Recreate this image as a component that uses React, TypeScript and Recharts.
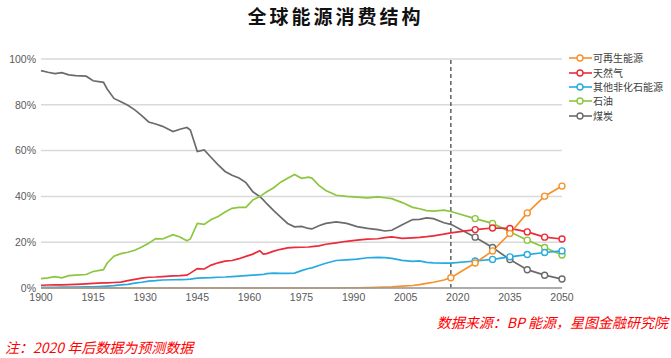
import {
  CartesianGrid,
  Line,
  LineChart,
  ReferenceLine,
  XAxis,
  YAxis,
} from "recharts";

const years = [
  1900, 1902, 1904, 1906, 1908, 1910, 1913, 1915, 1918, 1919, 1921, 1923, 1925, 1927, 1929,
  1931, 1933, 1935, 1938, 1940, 1942, 1943, 1945, 1947, 1949, 1951, 1953, 1955, 1957, 1959,
  1961, 1963, 1964, 1965, 1967, 1969, 1971, 1973, 1975, 1977, 1978, 1980, 1982, 1985, 1988,
  1991, 1994, 1997, 1999, 2001, 2004, 2007, 2009, 2011, 2013, 2016, 2018, 2025, 2030, 2035,
  2040, 2045, 2050,
];

const coal = [
  94.9, 94.2, 93.6, 94.0, 93.1, 92.7, 92.5, 90.5, 89.8, 87.0, 82.8, 81.3, 79.8, 77.8, 75.3,
  72.5, 71.6, 70.6, 68.3, 69.3, 70.1, 69.0, 59.6, 60.3, 57.0, 53.8, 50.9, 49.2, 48.0, 46.0,
  42.0, 39.9, 38.5, 36.8, 33.8, 31.0, 28.2, 26.7, 26.9, 26.0, 25.8, 27.2, 28.2, 28.9, 28.2,
  26.8, 26.0, 25.5, 24.9, 25.2, 27.6, 29.9, 30.0, 30.6, 30.3, 28.5, 27.8, 22.2, 17.7, 12.4,
  8.0, 5.6, 3.9,
];

const oil = [
  4.1, 4.4, 5.0, 4.4, 5.4, 5.6, 5.9, 7.2, 8.0, 10.8, 13.9, 15.0, 15.6, 16.5, 17.9,
  19.5, 21.6, 21.4, 23.3, 22.3, 20.6, 21.4, 28.2, 27.8, 29.9, 31.2, 33.2, 34.8, 35.2, 35.2,
  38.5, 39.9, 41.0, 42.0, 43.8, 46.2, 47.9, 49.6, 47.9, 48.4, 48.0, 44.8, 42.6, 40.5, 40.0,
  39.7, 39.4, 39.8, 39.4, 39.0, 37.3, 35.2, 34.6, 33.8, 33.6, 34.0, 33.4, 30.3, 28.2, 24.6,
  20.9, 17.7, 14.4,
];

const gas = [
  1.2, 1.3, 1.4, 1.4, 1.5, 1.6, 1.8, 2.0, 2.2, 2.2, 2.4, 2.6, 3.2, 3.8, 4.3,
  4.7, 4.8, 5.0, 5.3, 5.4, 5.6, 6.5, 8.5, 8.3, 10.0, 11.0, 11.7, 12.0, 12.8, 13.8,
  14.8, 16.3, 14.8, 15.0, 16.1, 16.9, 17.5, 17.7, 17.8, 17.9, 18.1, 18.4, 19.1, 19.7, 20.4,
  20.9, 21.3, 21.5, 22.0, 22.3, 21.7, 21.9, 22.1, 22.4, 22.8, 23.5, 24.1, 25.5, 26.2, 26.0,
  24.5, 22.2, 21.4,
];

const otherNonFossil = [
  0.3, 0.3, 0.3, 0.4, 0.4, 0.4, 0.5, 0.5, 0.7, 0.8, 1.0, 1.4, 1.6, 2.1, 2.5,
  3.0, 3.2, 3.5, 3.6, 3.7, 3.8, 3.9, 4.3, 4.4, 4.5, 4.7, 4.8, 5.0, 5.2, 5.4,
  5.6, 5.8, 5.9, 6.3, 6.5, 6.4, 6.4, 6.5, 7.6, 8.5, 8.8, 9.8, 10.8, 12.0, 12.3,
  12.6, 13.2, 13.4, 13.3, 12.9, 12.1, 11.6, 11.8, 11.2, 11.0, 10.9, 10.9, 11.8, 12.5, 13.6,
  14.6, 15.5, 16.2,
];

const renewables = [
  0, 0, 0, 0, 0, 0, 0, 0, 0, 0, 0, 0, 0, 0, 0,
  0, 0, 0, 0, 0, 0, 0, 0, 0, 0, 0, 0, 0, 0, 0,
  0, 0, 0, 0, 0, 0, 0, 0, 0, 0, 0, 0, 0, 0, 0.1,
  0.1, 0.2, 0.3, 0.4, 0.5, 0.8, 1.1, 1.5, 2.0, 2.5, 3.5, 4.5, 10.9, 16.2, 23.8,
  32.8, 40.1, 44.5,
];

const xTicks = [1900, 1915, 1930, 1945, 1960, 1975, 1990, 2005, 2020, 2035, 2050];
const yTicks = [0, 20, 40, 60, 80, 100];
const forecastYears = [2025, 2030, 2035, 2040, 2045, 2050];
const dividerYear = 2018;

const data = years.map((year, i) => ({
  year,
  coal: coal[i],
  oil: oil[i],
  gas: gas[i],
  other: otherNonFossil[i],
  renew: renewables[i],
}));

// legend order as in the picture
const series = [
  { key: "renew", name: "可再生能源", color: "#f7922a" },
  { key: "gas", name: "天然气", color: "#ec2a3a" },
  { key: "other", name: "其他非化石能源", color: "#27aae1" },
  { key: "oil", name: "石油", color: "#8cc63f" },
  { key: "coal", name: "煤炭", color: "#6b6b6b" },
];
const drawOrder = ["coal", "oil", "other", "gas", "renew"];

const cjk = '"Noto Sans CJK SC", "Noto Sans", sans-serif';
const tickStyle = { fontSize: 10.5, fill: "#5a5a5a", fontFamily: '"Liberation Sans", Arial, sans-serif' };

function makeDot(key: string, color: string) {
  return (props: any) => {
    const { cx, cy, payload, index } = props;
    const show =
      forecastYears.includes(payload.year) || (key === "renew" && payload.year === dividerYear);
    if (!show) return <g key={`d-${key}-${index}`} />;
    return (
      <circle
        key={`d-${key}-${index}`}
        cx={cx}
        cy={cy}
        r={3}
        fill="#fff"
        stroke={color}
        strokeWidth={1.4}
      />
    );
  };
}

function LegendBox() {
  return (
    <div style={{ position: "absolute", left: 569, top: 51, whiteSpace: "nowrap" }}>
      {series.map((s) => (
        <div key={s.key} style={{ display: "flex", alignItems: "center", height: 14.4 }}>
          <svg width={23} height={10} style={{ marginRight: 1, flex: "none" }}>
            <line x1={0} y1={5} x2={23} y2={5} stroke={s.color} strokeWidth={1.6} />
            <circle cx={11} cy={5} r={3} fill="#fff" stroke={s.color} strokeWidth={1.4} />
          </svg>
          <span style={{ fontSize: 10, color: "#404040", fontFamily: cjk, lineHeight: "14px" }}>
            {s.name}
          </span>
        </div>
      ))}
    </div>
  );
}

export default function App() {
  return (
    <div style={{ position: "relative", width: 671, height: 358, background: "#fff", overflow: "hidden" }}>
      <style>{"body{margin:0}"}</style>
      <div
        style={{
          position: "absolute",
          top: 2,
          left: 0,
          width: 671,
          textAlign: "center",
          fontFamily: cjk,
          fontWeight: 700,
          fontSize: 19,
          letterSpacing: 3,
          color: "#111",
        }}
      >
        全球能源消费结构
      </div>

      <LineChart
        width={671}
        height={358}
        data={data}
        margin={{ top: 59, right: 109, bottom: 40, left: 0 }}
      >
        <CartesianGrid vertical={false} stroke="#d9d9d9" strokeWidth={1.5} />
        <XAxis
          dataKey="year"
          type="number"
          domain={[1900, 2050]}
          ticks={xTicks}
          tick={tickStyle}
          tickLine={false}
          tickSize={3}
          tickMargin={3}
          axisLine={{ stroke: "#9a9a9a", strokeWidth: 1.5 }}
          height={30}
        />
        <YAxis
          type="number"
          domain={[0, 100]}
          ticks={yTicks}
          tickFormatter={(v) => `${v}%`}
          tick={tickStyle}
          tickLine={false}
          tickSize={3}
          tickMargin={2}
          axisLine={false}
          width={41}
        />
        <ReferenceLine x={dividerYear} stroke="#555" strokeDasharray="4 3" strokeWidth={1.4} />
        {drawOrder.map((k) => {
          const s = series.find((x) => x.key === k)!;
          return (
            <Line
              key={s.key}
              type="linear"
              dataKey={s.key}
              name={s.name}
              stroke={s.color}
              strokeWidth={1.7}
              dot={makeDot(s.key, s.color)}
              activeDot={false}
              isAnimationActive={false}
            />
          );
        })}
      </LineChart>

      <LegendBox />

      <div
        style={{
          position: "absolute",
          right: 3,
          top: 312,
          fontFamily: cjk,
          fontStyle: "italic",
          fontSize: 14,
          color: "#ff0000",
          whiteSpace: "nowrap",
        }}
      >
        数据来源：BP 能源，星图金融研究院
      </div>
      <div
        style={{
          position: "absolute",
          left: 5,
          top: 337,
          fontFamily: cjk,
          fontStyle: "italic",
          fontSize: 14,
          color: "#ff0000",
          whiteSpace: "nowrap",
        }}
      >
        注：2020 年后数据为预测数据
      </div>
    </div>
  );
}
